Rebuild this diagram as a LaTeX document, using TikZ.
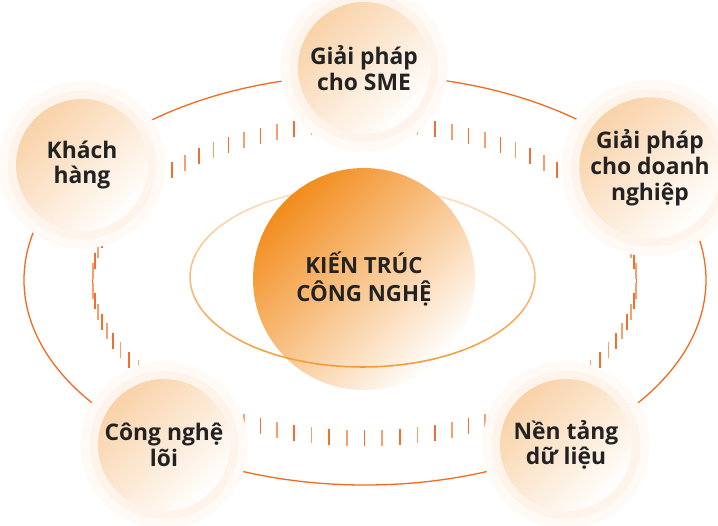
\documentclass[tikz,border=0pt]{standalone}
\usepackage{fontspec}
\setmainfont{Open Sans}
\usepackage{xcolor}
\definecolor{ringline}{RGB}{242,106,30}
\definecolor{tickdark}{RGB}{240,112,50}
\definecolor{ticklight}{RGB}{246,160,110}
\definecolor{coreorange}{RGB}{242,140,28}
\definecolor{bandstrong}{RGB}{243,150,48}
\definecolor{bandsoft}{RGB}{252,228,204}
\definecolor{bubbleorange}{RGB}{249,210,168}
\definecolor{glowin}{RGB}{254,244,235}
\definecolor{glowout}{RGB}{255,250,246}
\definecolor{textdark}{RGB}{34,34,34}

\begin{document}
\begin{tikzpicture}[x=0.03cm, y=-0.03cm,
    tick/.style={line width=1.4pt},
    bubble/.style={circle, minimum size=3.96cm, inner sep=0pt, align=center,
        text=textdark, font=\bfseries\fontsize{19.5}{22}\selectfont,
        preaction={draw=glowout, line width=30pt},
        preaction={draw=glowin, line width=14pt},
        top color=bubbleorange, bottom color=white, shading angle=45}]
    \useasboundingbox (0,0) rectangle (718,526);
    \coordinate (oc) at (365,280);
    \coordinate (tc) at (364.5,281);
    \coordinate (bc) at (362.5,277);
    %
    \draw[ringline, line width=1.1pt] (oc) ellipse [x radius=341, y radius=205];
    %
    \foreach \a in {0,7.5,...,355}
        \draw[tick, tickdark] (tc) ++(\a:272 and 157) ++(0,-8) -- ++(0,16);
    \foreach \a in {3.75,11.25,...,359}
        \draw[tick, ticklight] (tc) ++(\a:272 and 157) ++(0,-8) -- ++(0,16);
    %
    \foreach \a in {180,185,...,355} {
        \pgfmathsetmacro{\p}{50+45*sin(\a+2.5)}
        \draw[draw=bandstrong!\p!bandsoft, line width=1.3pt]
            (bc) ++(\a:172.5 and 90) arc[start angle=\a, delta angle=5.5, x radius=172.5, y radius=90];
    }
    \node[circle, minimum size=6.66cm, inner sep=0pt, align=center,
        text=textdark, font=\bfseries\fontsize{19}{24}\selectfont,
        top color=coreorange, bottom color=white, shading angle=45] (kt) at (364,279)
        {KIẾN TRÚC\\CÔNG NGHỆ};
    \foreach \a in {0,5,...,175} {
        \pgfmathsetmacro{\p}{50+45*sin(\a+2.5)}
        \draw[draw=bandstrong!\p!bandsoft, line width=1.3pt]
            (bc) ++(\a:172.5 and 90) arc[start angle=\a, delta angle=5.5, x radius=172.5, y radius=90];
    }
    %
    \node[bubble] (sme) at (364,68) {Giải pháp\\cho SME};
    \node[bubble] (kh) at (82,165) {Khách\\hàng};
    \node[bubble] (dn) at (650,168) {Giải pháp\\cho doanh\\nghiệp};
    \node[bubble] (cn) at (164,445) {Công nghệ\\lõi};
    \node[bubble] (dl) at (566,445) {Nền tảng\\dữ liệu};
\end{tikzpicture}
\end{document}
